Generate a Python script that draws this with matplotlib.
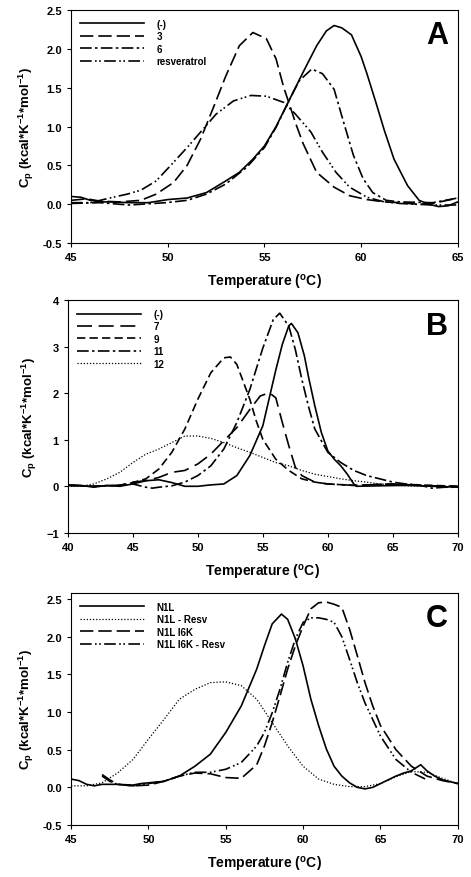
from matplotlib import pyplot as plt

# Panel A
tA_minus = [45, 45.5, 46, 46.5, 47, 48, 49, 50, 51, 52, 53, 53.7, 54.4, 55, 55.6, 56.3, 57, 57.7, 58.2, 58.6, 59, 59.5,
            60, 60.3, 60.8, 61.2, 61.7, 62.4, 63, 63.5, 64, 64.5, 65]
cA_minus = [0.10, 0.09, 0.05, 0.03, 0.03, 0.02, 0.02, 0.06, 0.08, 0.15, 0.30, 0.41, 0.58, 0.75, 1.00, 1.35, 1.70, 2.04,
            2.23, 2.30, 2.27, 2.18, 1.90, 1.68, 1.28, 0.95, 0.58, 0.24, 0.05, 0.0, -0.03, -0.02, 0.03]
tA_3 = [45, 45.8, 46.5, 47.5, 48.6, 49.4, 50.3, 51, 51.7, 52.4, 53, 53.7, 54.4, 55.1, 55.6, 56.0, 56.3, 56.6, 57, 57.7,
        58.6, 59.4, 60.3, 61.2, 62, 62.9, 63.7, 65]
cA_3 = [0.05, 0.07, 0.04, 0.03, 0.05, 0.13, 0.28, 0.50, 0.84, 1.27, 1.65, 2.04, 2.21, 2.13, 1.87, 1.50, 1.28, 1.05, 0.78,
        0.41, 0.22, 0.11, 0.06, 0.03, 0.02, 0.0, 0.01, 0.08]
tA_6 = [45, 46.5, 48, 49.9, 51, 52, 53, 54.1, 55, 55.6, 56.3, 56.8, 57.45, 58, 58.6, 59.1, 59.6, 60.1, 60.6, 61.3, 62,
        63.7, 65]
cA_6 = [0.01, 0.02, -0.01, 0.02, 0.05, 0.13, 0.26, 0.48, 0.73, 0.99, 1.35, 1.59, 1.74, 1.68, 1.48, 1.05, 0.63, 0.33,
        0.15, 0.05, 0.03, 0.02, 0.08]
tA_res = [45, 46, 47, 47.9, 48.6, 49.4, 50.3, 51, 51.7, 52.5, 53.4, 54.3, 55.1, 56, 56.6, 57.4, 58, 58.7, 59.4, 60.3,
          61.2, 62, 63.7, 65]
cA_res = [0.02, 0.02, 0.08, 0.13, 0.18, 0.30, 0.54, 0.73, 0.93, 1.16, 1.33, 1.40, 1.39, 1.31, 1.16, 0.93, 0.67, 0.41,
          0.22, 0.09, 0.03, 0.01, -0.01, -0.01]

# Panel B
tB_minus = [40, 41, 42, 43, 44, 45, 46, 47, 48, 49, 50, 51, 52, 53, 54, 55, 55.5, 56, 56.5, 57, 57.2, 57.7, 58.2, 58.5,
            59, 59.5, 60, 60.5, 61, 61.5, 62, 62.2, 64, 66, 68, 70]
cB_minus = [0.03, 0.02, -0.02, 0.02, 0.0, 0.05, 0.12, 0.14, 0.08, 0.0, 0.0, 0.03, 0.05, 0.23, 0.66, 1.30, 1.90, 2.50,
            3.05, 3.45, 3.50, 3.30, 2.80, 2.37, 1.73, 1.16, 0.76, 0.58, 0.44, 0.26, 0.05, 0.0, 0.01, 0.02, 0.0, -0.02]
tB_7 = [40, 42, 44, 45, 46, 47, 48, 49, 50, 51, 52, 53, 54, 54.8, 55.5, 56, 56.5, 57, 57.5, 58, 59, 60, 62, 65, 68, 70]
cB_7 = [0.02, 0.0, 0.02, 0.09, 0.12, 0.19, 0.30, 0.34, 0.48, 0.69, 0.98, 1.26, 1.65, 1.94, 2.01, 1.90, 1.37, 0.87,
        0.41, 0.23, 0.09, 0.05, 0.02, 0.05, 0.01, 0.0]
tB_9 = [40, 42, 44, 45, 46, 47, 48, 49, 50, 51, 52, 52.5, 53, 54, 54.5, 55, 56, 57, 58, 59, 60, 62, 65, 70]
cB_9 = [0.02, 0.0, 0.02, 0.08, 0.16, 0.37, 0.73, 1.23, 1.87, 2.44, 2.76, 2.78, 2.62, 1.87, 1.40, 1.01, 0.58, 0.34,
        0.16, 0.09, 0.05, 0.02, 0.05, 0.0]
tB_11 = [40, 42, 44, 45, 46, 46.5, 47, 48, 49, 50, 51, 52, 53, 54, 55, 55.8, 56.3, 57, 57.5, 58, 58.5, 59, 60, 61, 62,
         63, 64, 65, 66, 67, 68, 69, 70]
cB_11 = [0.02, 0.0, 0.02, 0.05, -0.02, -0.04, -0.02, 0.01, 0.09, 0.23, 0.44, 0.80, 1.37, 2.08, 2.97, 3.58, 3.72, 3.44,
         2.94, 2.30, 1.73, 1.23, 0.73, 0.51, 0.34, 0.23, 0.16, 0.09, 0.05, 0.03, -0.04, -0.02, -0.02]
tB_12 = [40, 41, 42, 43, 44, 45, 46, 47, 48, 49, 50, 51, 52, 53, 54, 55, 56, 57, 58, 59, 60, 61, 62, 63, 64, 65, 66, 70]
cB_12 = [0.0, 0.0, 0.05, 0.16, 0.30, 0.51, 0.69, 0.80, 0.94, 1.08, 1.08, 1.03, 0.94, 0.83, 0.73, 0.62, 0.51, 0.44,
         0.34, 0.26, 0.21, 0.16, 0.12, 0.09, 0.05, 0.03, 0.01, 0.0]

# Panel C
tC_n1l = [45, 45.5, 46, 46.5, 47, 48, 49, 49.5, 50, 51, 52, 53, 54, 55, 56, 57, 57.5, 58, 58.6, 59, 59.5, 60, 60.5, 61,
          61.5, 62, 62.5, 63, 63.5, 64, 64.5, 65, 65.5, 66, 66.5, 67, 67.6, 68, 68.5, 69, 70]
cC_n1l = [0.11, 0.09, 0.04, 0.02, 0.04, 0.04, 0.03, 0.05, 0.06, 0.08, 0.15, 0.28, 0.44, 0.73, 1.08, 1.57, 1.88, 2.17,
          2.30, 2.23, 1.97, 1.61, 1.17, 0.82, 0.51, 0.28, 0.15, 0.06, 0.0, -0.02, 0.0, 0.05, 0.10, 0.15, 0.19, 0.22,
          0.30, 0.22, 0.15, 0.10, 0.05]
tC_n1lres = [45, 46, 47, 48, 49, 50, 51, 52, 53, 54, 55, 56, 57, 58, 59, 60, 61, 62, 63, 64, 65, 66, 67, 68, 69, 70]
cC_n1lres = [0.02, 0.02, 0.06, 0.19, 0.37, 0.64, 0.90, 1.17, 1.30, 1.39, 1.40, 1.35, 1.17, 0.86, 0.55, 0.28, 0.11,
             0.04, 0.01, 0.01, 0.05, 0.14, 0.21, 0.2, 0.12, 0.05]
tC_i6k = [47, 47.5, 48, 49, 50, 51, 52, 53, 54, 55, 56, 57, 57.5, 58, 58.5, 59, 59.5, 60, 60.5, 61, 61.5, 62, 62.5, 63,
          63.5, 64, 64.5, 65, 66, 67, 68, 69, 70]
cC_i6k = [0.17, 0.1, 0.04, 0.02, 0.03, 0.08, 0.15, 0.19, 0.18, 0.13, 0.12, 0.30, 0.55, 0.86, 1.21, 1.57, 1.88, 2.14,
          2.37, 2.45, 2.46, 2.43, 2.39, 2.10, 1.75, 1.39, 1.08, 0.82, 0.50, 0.28, 0.15, 0.09, 0.05]
tC_i6kres = [47, 47.5, 48, 49, 50, 51, 52, 53, 54, 55, 56, 57, 57.5, 58, 58.5, 59, 59.5, 60, 60.5, 61, 61.5, 62, 62.5,
             63, 63.5, 64, 65, 66, 67, 67.5, 68]
cC_i6kres = [0.15, 0.08, 0.04, 0.02, 0.05, 0.08, 0.15, 0.20, 0.20, 0.24, 0.33, 0.55, 0.73, 0.99, 1.30, 1.66, 1.97,
             2.19, 2.25, 2.25, 2.23, 2.19, 2.00, 1.70, 1.39, 1.12, 0.68, 0.37, 0.20, 0.15, 0.10]

plt.rcParams['font.family'] = ['Liberation Sans', 'DejaVu Sans']
plt.rcParams['font.weight'] = 'bold'
plt.rcParams['mathtext.fontset'] = 'custom'
plt.rcParams['mathtext.bf'] = 'Liberation Sans:bold'
plt.rcParams['mathtext.rm'] = 'Liberation Sans:bold'
plt.rcParams['mathtext.default'] = 'bf'

solid = '-'
longdash = (0, (8, 3))
dash9 = (0, (5, 2.5))
dashdot = (0, (7, 2, 1.5, 2))
dashdotdot = (0, (7, 2, 1, 1.5, 1, 2))
dotted = (0, (1, 1.5))

fig = plt.figure(figsize=(4.71, 8.78), dpi=100)
axA = fig.add_axes([0.151, 0.722, 0.821, 0.2655])
axB = fig.add_axes([0.144, 0.392, 0.828, 0.265])
axC = fig.add_axes([0.151, 0.0592, 0.821, 0.2643])

lw = 1.2
axA.plot(tA_minus, cA_minus, color='black', lw=lw, ls=solid, label='(-)')
axA.plot(tA_3, cA_3, color='black', lw=lw, ls=longdash, label='3')
axA.plot(tA_6, cA_6, color='black', lw=lw, ls=dashdot, label='6')
axA.plot(tA_res, cA_res, color='black', lw=lw, ls=dashdotdot, label='resveratrol')
axA.set_xlim(45, 65)
axA.set_ylim(-0.5, 2.5)
axA.set_xticks([45, 50, 55, 60, 65])
axA.set_yticks([-0.5, 0.0, 0.5, 1.0, 1.5, 2.0, 2.5])
axA.set_yticklabels(['-0.5', '0.0', '0.5', '1.0', '1.5', '2.0', '2.5'])

axB.plot(tB_minus, cB_minus, color='black', lw=lw, ls=solid, label='(-)')
axB.plot(tB_7, cB_7, color='black', lw=lw, ls=(0, (9, 4)), label='7')
axB.plot(tB_9, cB_9, color='black', lw=lw, ls=dash9, label='9')
axB.plot(tB_11, cB_11, color='black', lw=lw, ls=dashdot, label='11')
axB.plot(tB_12, cB_12, color='black', lw=0.9, ls=dotted, label='12')
axB.set_xlim(40, 70)
axB.set_ylim(-1, 4)
axB.set_xticks([40, 45, 50, 55, 60, 65, 70])
axB.set_yticks([-1, 0, 1, 2, 3, 4])

axC.plot(tC_n1l, cC_n1l, color='black', lw=lw, ls=solid, label='N1L')
axC.plot(tC_n1lres, cC_n1lres, color='black', lw=0.9, ls=dotted, label='N1L - Resv')
axC.plot(tC_i6k, cC_i6k, color='black', lw=lw, ls=longdash, label='N1L I6K')
axC.plot(tC_i6kres, cC_i6kres, color='black', lw=lw, ls=dashdotdot, label='N1L I6K - Resv')
axC.set_xlim(45, 70)
axC.set_ylim(-0.5, 2.58)
axC.set_xticks([45, 50, 55, 60, 65, 70])
axC.set_yticks([-0.5, 0.0, 0.5, 1.0, 1.5, 2.0, 2.5])
axC.set_yticklabels(['-0.5', '0.0', '0.5', '1.0', '1.5', '2.0', '2.5'])

for ax, letter in [(axA, 'A'), (axB, 'B'), (axC, 'C')]:
    ax.tick_params(direction='out', length=3, width=0.8, labelsize=8)
    for s in ax.spines.values():
        s.set_linewidth(0.8)
    ax.set_xlabel('Temperature ($^{o}$C)', fontsize=10, fontweight='bold', labelpad=7)
    ax.set_ylabel('C$_p$ (kcal*K$^{-1}$*mol$^{-1}$)', fontsize=9.5, fontweight='bold', labelpad=5)
    ax.text(0.975, 0.955, letter, transform=ax.transAxes, ha='right', va='top', fontsize=22, fontweight='bold')
    ax.legend(loc='upper left', frameon=False, handlelength=6.6, handletextpad=1.3,
              labelspacing=0.25, borderaxespad=0.5, prop={'weight': 'bold', 'size': 7})

plt.savefig('out.png', dpi=100)
